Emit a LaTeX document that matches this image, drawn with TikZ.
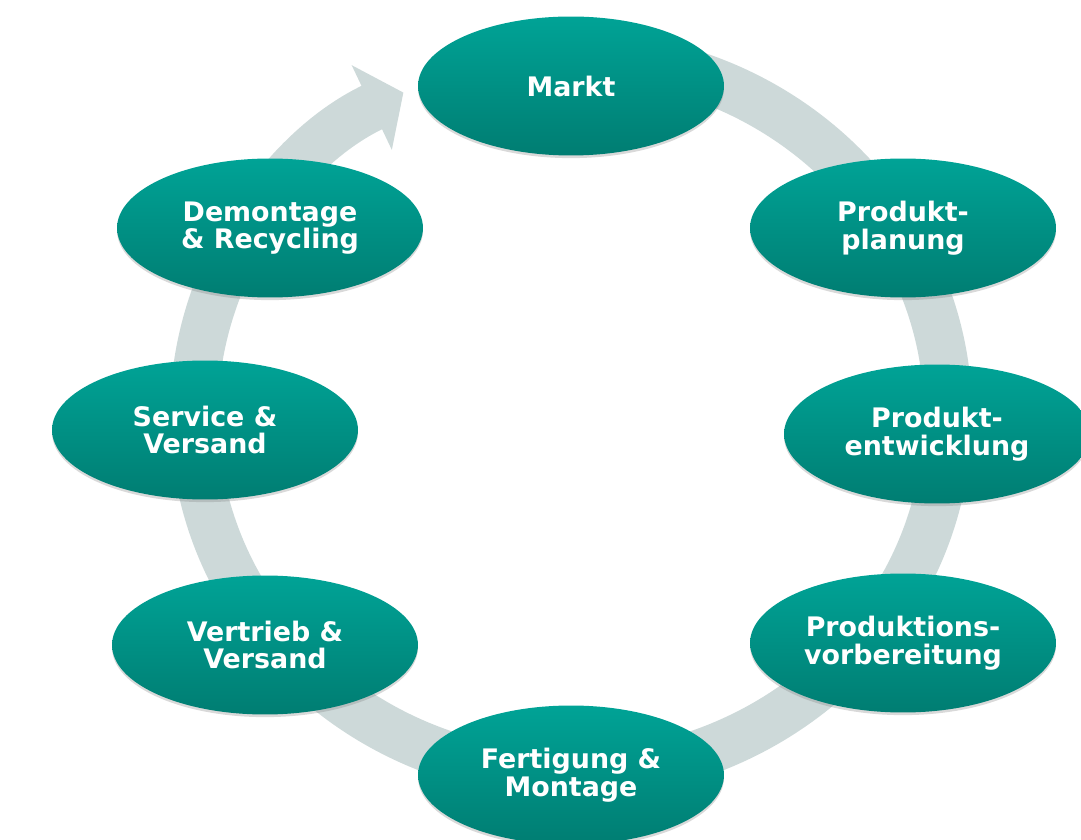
\documentclass[tikz,border=0pt]{standalone}
\usepackage{fontspec}
\setmainfont{DejaVu Sans}
\usetikzlibrary{shapes.geometric,arrows.meta,shadows}
\definecolor{ringgray}{RGB}{205,217,217}
\definecolor{tealtop}{RGB}{0,163,150}
\definecolor{tealbot}{RGB}{0,125,114}
\begin{document}
\begin{tikzpicture}[x=0.02cm,y=0.02cm,
    phase/.style={ellipse,minimum width=6.12cm,minimum height=2.78cm,inner sep=0pt,
      top color=tealtop,bottom color=tealbot,text=white,align=center,
      font=\bfseries\fontsize{15.3}{15.8}\selectfont,
      drop shadow={shadow xshift=0pt,shadow yshift=-1.5pt,opacity=0.3}}]
  \useasboundingbox (0,0) rectangle (1081,839);
  % ring with arrow back to the market
  \draw[ringgray,line width=0.96cm,-{Triangle[width=1.84cm,length=0.7cm]}]
    (571,424) ++(80:377 and 360) arc[start angle=80,end angle=-243.6,x radius=377,y radius=360];
  \node[phase] (markt) at (571,753) {Markt};
  \node[phase] (planung) at (903,611) {Produkt-\\planung};
  \node[phase] (entwicklung) at (937,405) {Produkt-\\entwicklung};
  \node[phase] (vorbereitung) at (903,196) {Produktions-\\vorbereitung};
  \node[phase] (fertigung) at (571,64) {Fertigung \&\\Montage};
  \node[phase] (vertrieb) at (265,194) {Vertrieb \&\\Versand};
  \node[phase] (service) at (205,409) {Service \&\\Versand};
  \node[phase] (demontage) at (270,611) {Demontage\\\& Recycling};
\end{tikzpicture}
\end{document}
